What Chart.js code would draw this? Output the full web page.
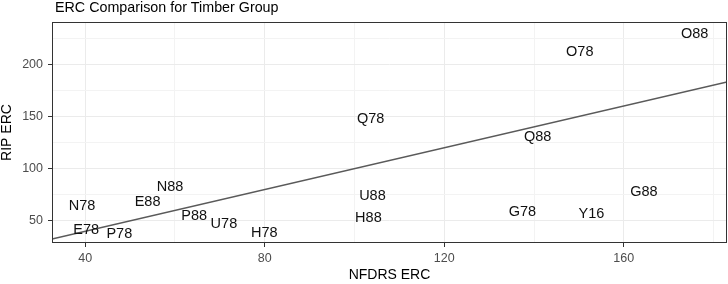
<!DOCTYPE html>
<html>
<head>
<meta charset="utf-8">
<script src="https://cdn.jsdelivr.net/npm/chart.js@4/dist/chart.umd.min.js"></script>
<style>
  html, body { margin: 0; padding: 0; background: #fff; }
  canvas { display: block; }
</style>
</head>
<body>
<canvas id="ercChart" width="728" height="284"></canvas>
<script>
// station labels and their ERC values (NFDRS on x, RIP on y)
const stations = ['O88', 'O78', 'Q88', 'Q78', 'U88', 'H88', 'N78', 'N88', 'E88',
                  'E78', 'P78', 'P88', 'U78', 'H78', 'G78', 'Y16', 'G88'];
const nfdrsErc = [175.8, 150.2, 140.8, 103.6, 104.0, 103.1, 39.3, 58.9, 53.9,
                  40.2, 47.6, 64.3, 70.9, 79.9, 137.4, 152.8, 164.5];
const ripErc   = [229.0, 211.5, 130.6, 147.8, 73.8, 53.2, 64.7, 82.3, 68.5,
                  41.4, 37.5, 55.1, 47.4, 38.2, 58.6, 56.4, 78.1];

// axis ranges and ticks
const xRange = [32.6, 183.0];
const yRange = [28.9, 240.5];
const xMajor = [40, 80, 120, 160];
const xMinor = [60, 100, 140, 180];
const yMajor = [50, 100, 150, 200];
const yMinor = [75, 125, 175, 225];

const FONT = "'Liberation Sans', Arial, Helvetica, sans-serif";

const points = stations.map((s, i) => ({ x: nfdrsErc[i], y: ripErc[i], label: s }));
// 1:1 reference line across the panel
const oneToOne = xRange.map(v => ({ x: v, y: v }));

const gridColor = (majors) => ctx => majors.includes(ctx.tick && ctx.tick.value) ? '#ebebeb' : '#f3f3f3';
const tickColor = (majors) => ctx => majors.includes(ctx.tick && ctx.tick.value) ? '#333333' : 'rgba(0,0,0,0)';

const panelPlugin = {
    id: 'panel',
    afterDatasetsDraw(chart) {
        const { ctx, chartArea, scales } = chart;
        ctx.save();
        ctx.font = `14.5px ${FONT}`;
        ctx.fillStyle = '#111';
        ctx.textAlign = 'center';
        ctx.textBaseline = 'middle';
        points.forEach(p => {
            ctx.fillText(p.label, scales.x.getPixelForValue(p.x), scales.y.getPixelForValue(p.y));
        });
        ctx.strokeStyle = '#333333';
        ctx.lineWidth = 1;
        ctx.strokeRect(chartArea.left + 0.5, chartArea.top + 0.5,
                       chartArea.right - chartArea.left - 1, chartArea.bottom - chartArea.top - 1);
        ctx.restore();
    },
    afterDraw(chart) {
        const ctx = chart.ctx;
        ctx.save();
        ctx.font = `14.3px ${FONT}`;
        ctx.fillStyle = '#000';
        ctx.textAlign = 'left';
        ctx.textBaseline = 'middle';
        ctx.fillText('ERC Comparison for Timber Group', 55, 8);
        ctx.restore();
    }
};

new Chart(document.getElementById('ercChart'), {
    type: 'scatter',
    data: {
        datasets: [{
            data: points,
            pointRadius: 0,
            pointHoverRadius: 0
        }, {
            type: 'line',
            data: oneToOne,
            borderColor: '#5a5a5a',
            borderWidth: 1.5,
            pointRadius: 0,
            fill: false
        }]
    },
    options: {
        responsive: false,
        animation: false,
        devicePixelRatio: 1,
        layout: { padding: { top: 22, right: 1, left: 0, bottom: 0 } },
        plugins: {
            legend: { display: false },
            tooltip: { enabled: false }
        },
        scales: {
            x: {
                type: 'linear',
                min: xRange[0],
                max: xRange[1],
                afterBuildTicks: scale => {
                    scale.ticks = [...xMajor, ...xMinor].sort((a, b) => a - b).map(v => ({ value: v }));
                },
                afterFit: scale => { scale.height = 41; },
                ticks: {
                    color: '#4d4d4d',
                    font: { family: FONT, size: 12.5 },
                    padding: 4,
                    maxRotation: 0,
                    autoSkip: false,
                    callback: v => xMajor.includes(v) ? String(v) : ''
                },
                grid: {
                    color: gridColor(xMajor),
                    tickColor: tickColor(xMajor),
                    tickLength: 4,
                    lineWidth: 1
                },
                border: { display: false },
                title: {
                    display: true,
                    text: 'NFDRS ERC',
                    color: '#000',
                    font: { family: FONT, size: 14 },
                    padding: 0
                }
            },
            y: {
                type: 'linear',
                min: yRange[0],
                max: yRange[1],
                afterBuildTicks: scale => {
                    scale.ticks = [...yMajor, ...yMinor].sort((a, b) => a - b).map(v => ({ value: v }));
                },
                afterFit: scale => { scale.width = 52; },
                ticks: {
                    color: '#4d4d4d',
                    font: { family: FONT, size: 12.5 },
                    padding: 5,
                    autoSkip: false,
                    callback: v => yMajor.includes(v) ? String(v) : ''
                },
                grid: {
                    color: gridColor(yMajor),
                    tickColor: tickColor(yMajor),
                    tickLength: 4,
                    lineWidth: 1
                },
                border: { display: false },
                title: {
                    display: true,
                    text: 'RIP ERC',
                    color: '#000',
                    font: { family: FONT, size: 14 },
                    padding: { top: -1, bottom: 0 }
                }
            }
        }
    },
    plugins: [panelPlugin]
});
</script>
</body>
</html>
